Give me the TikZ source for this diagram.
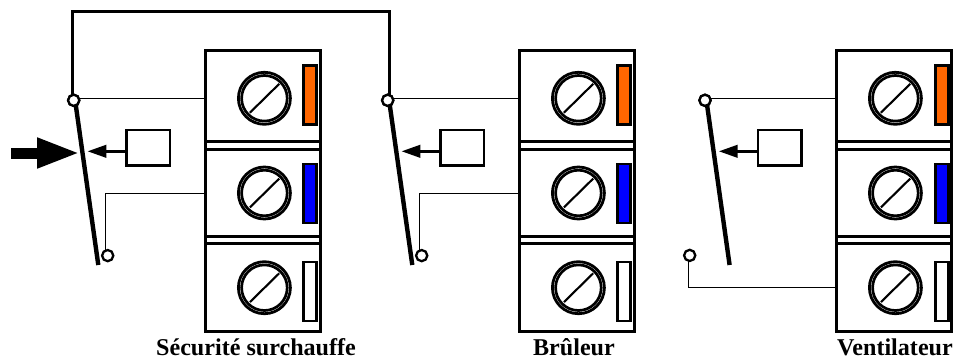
\documentclass[tikz,border=0pt]{standalone}
\usepackage{fontspec}
\setmainfont{Liberation Serif}
\usetikzlibrary{arrows.meta}
\definecolor{termorange}{RGB}{255,102,0}
\definecolor{termblue}{RGB}{0,0,255}
\tikzset{
  blockbox/.style={draw,line width=2.6pt,minimum width=115pt,minimum height=281pt,inner sep=0pt,outer sep=0pt},
  septline/.style={line width=2.6pt},
  tagbox/.style={draw,line width=2.6pt,minimum width=13pt,minimum height=59pt,inner sep=0pt,outer sep=0pt},
  screwouter/.style={circle,draw,line width=2.8pt,fill=white,minimum size=52pt,inner sep=0pt,outer sep=0pt},
  screwinner/.style={circle,draw,line width=2.7pt,minimum size=45.6pt,inner sep=0pt,outer sep=0pt},
  slot/.style={line width=2.1pt},
  contact/.style={circle,draw,line width=2.3pt,fill=white,minimum size=11.2pt,inner sep=0pt,outer sep=0pt},
  thinwire/.style={line width=1pt},
  busbar/.style={line width=2.6pt,line join=miter},
  leverbar/.style={line width=4.4pt},
  sensebox/.style={draw,line width=2.4pt,minimum width=43.6pt,minimum height=35.6pt,inner sep=0pt,outer sep=0pt},
  sensearrow/.style={line width=2.4pt,-{Triangle[length=18.7pt,width=12.5pt]}},
  bigarrow/.style={line width=11pt,-{Triangle[length=43.3pt,width=27.7pt]}},
  caption/.style={font=\bfseries\fontsize{24.1}{26}\selectfont,inner sep=0pt,anchor=base}
}
\begin{document}
\begin{tikzpicture}[x=1pt,y=-1pt]
\useasboundingbox (0,0) rectangle (954,362);
% terminal blocks
\foreach \n/\bx/\tx in {a/0/0,b/314/314,c/631/632}{
  \node[blockbox] (\n block) at (263+\bx,191) {};
  \draw[septline] (205.5+\bx,141.5) -- (320.5+\bx,141.5);
  \draw[septline] (205.5+\bx,149.5) -- (320.5+\bx,149.5);
  \draw[septline] (205.5+\bx,236.5) -- (320.5+\bx,236.5);
  \draw[septline] (205.5+\bx,243.7) -- (320.5+\bx,243.7);
  \foreach \m/\y in {1/98.3,2/193,3/287.7}{
    \node[screwouter] (\n screw\m) at (264.4+\bx,\y) {};
    \node[screwinner] at (\n screw\m) {};
    \draw[slot] (249.9+\bx,\y+14.4) -- (279.2+\bx,\y-14.4);
  }
  \ifnum\bx=631
    \fill[termorange] (933.8,65.5) rectangle (945,124.5);
    \fill[termblue] (933.8,164.2) rectangle (945,222.5);
  \fi
  \node[tagbox,fill=termorange] (\n tag1) at (310+\tx,95) {};
  \node[tagbox,fill=termblue] (\n tag2) at (310+\tx,193.4) {};
  \node[tagbox,fill=white] (\n tag3) at (310+\tx,291.4) {};
  \coordinate (\n t1) at (205.5+\bx,98.5);
  \coordinate (\n t2) at (205.5+\bx,193.3);
  \coordinate (\n t3) at (205.5+\bx,287.3);
}
% block c: right border sits above its tags
\draw[line width=2.6pt] (951.5,49.2) -- (951.5,332.8);
% switches
\foreach \n/\sx in {a/0,b/314,c/631.3}{
  \node[contact] (\n com) at (73.7+\sx,100.3) {};
  \coordinate (\n end) at (98.3+\sx,265);
  \node[sensebox] (\n sense) at (148.2+\sx,147.5) {};
  \coordinate (\n tip) at (87.6+\sx,151.3);
  \draw[sensearrow] (\n sense.west |- \n tip) -- (\n tip);
  \draw[thinwire] (\n t1) -- (\n t1 -| \n com);
  \draw[leverbar] ([xshift=1.4pt]\n com.center) -- (\n end);
  \node[contact] at (\n com) {};
}
% normally-open contacts
\draw[thinwire] (at2) -| (105.7,250);
\draw[thinwire] (bt2) -| (419.7,250);
\draw[thinwire] (ct3) -| (688.3,260);
\node[contact] (ano) at (107.7,255.6) {};
\node[contact] (bno) at (421.7,255.6) {};
\node[contact] (cno) at (689.7,255.4) {};
% bus between the two commons
\coordinate (bustop) at (0,11.5);
\draw[busbar] ([xshift=-1.4pt]acom.north) |- (bustop -| bcom) -- ([xshift=1.6pt]bcom.north |- bustop) -- ([xshift=1.6pt]bcom.north);
% external actuation
\coordinate (pushstart) at (11,153);
\coordinate (pushtip) at (80.3,153);
\draw[bigarrow] (pushstart) -- (pushtip);
% captions
\node[caption] (capa) at (256,355.5) {Sécurité surchauffe};
\node[caption] (capb) at (574,355.5) {Brûleur};
\node[caption] (capc) at (895,355.5) {Ventilateur};
\end{tikzpicture}
\end{document}
